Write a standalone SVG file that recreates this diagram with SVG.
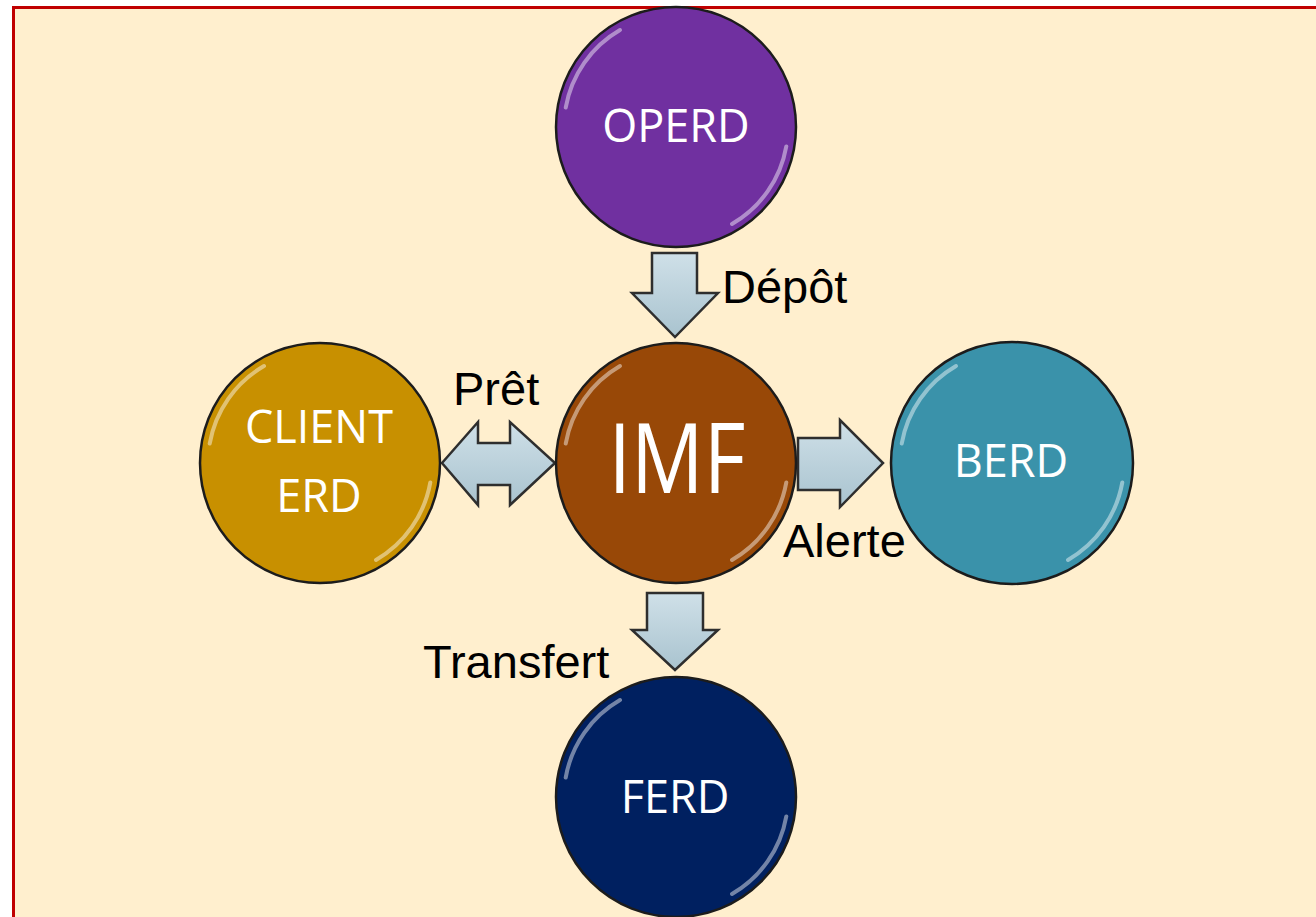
<svg xmlns="http://www.w3.org/2000/svg" width="1316" height="917" viewBox="0 0 1316 917">
<style>
.node circle.body{stroke:#1c1c1c;stroke-width:2.5}
.hl{fill:none;stroke:#ffffff;stroke-width:4;stroke-opacity:0.45;stroke-linecap:round}
.ntext{font-family:"Open Sans","Noto Sans",sans-serif;fill:#ffffff;text-anchor:middle;font-size:45px}
.lbl{font-family:"Liberation Sans",Arial,sans-serif;fill:#000000;font-size:47px}
.arrow{fill:url(#ag);stroke:#2e2e2e;stroke-width:2.5;stroke-linejoin:miter}
</style>
<defs>
<linearGradient id="ag" x1="0" y1="0" x2="0" y2="1">
<stop offset="0" stop-color="#cfe0e8"/>
<stop offset="1" stop-color="#a9c3cf"/>
</linearGradient>
<g id="gloss">
<path class="hl" d="M -110.3 -19.4 A 112 112 0 0 1 -56 -97"/>
<path class="hl" d="M 110.3 19.4 A 112 112 0 0 1 56 97"/>
</g>
</defs>
<rect x="0" y="0" width="1316" height="917" fill="#ffffff"/>
<rect x="13.5" y="7.5" width="1320" height="930" fill="#ffefce" stroke="#c00000" stroke-width="3"/>

<g id="connectors">
<path class="arrow" d="M652 253 H697 V293 H718 L675 337 L632 293 H652 Z"/>
<path class="arrow" d="M442 463 L478 422 V443 H510 V422 L555 463 L510 505 V485 H478 V505 Z"/>
<path class="arrow" d="M798 438 H840 V420 L883 463 L840 507 V490 H798 Z"/>
<path class="arrow" d="M647 593 H703 V630 H718 L675 670 L632 630 H647 Z"/>
<text class="lbl" x="722" y="303">Dépôt</text>
<text class="lbl" x="453" y="405">Prêt</text>
<text class="lbl" x="783" y="557">Alerte</text>
<text class="lbl" x="423" y="678">Transfert</text>
</g>

<g id="OPERD" class="node">
<circle class="body" cx="676" cy="127" r="120" fill="#7030a0"/>
<use href="#gloss" transform="translate(676 127)"/>
<text class="ntext" x="676" y="142">OPERD</text>
</g>
<g id="IMF" class="node">
<circle class="body" cx="676" cy="463" r="120" fill="#984807"/>
<use href="#gloss" transform="translate(676 463)"/>
<text class="ntext" x="677" y="493" style="font-size:97px" textLength="137" lengthAdjust="spacingAndGlyphs">IMF</text>
</g>
<g id="CLIENT_ERD" class="node">
<circle class="body" cx="320" cy="463" r="120" fill="#c89000"/>
<use href="#gloss" transform="translate(320 463)"/>
<text class="ntext" x="319" y="443">CLIENT</text>
<text class="ntext" x="319" y="512">ERD</text>
</g>
<g id="BERD" class="node">
<circle class="body" cx="1012" cy="463" r="121" fill="#3a92aa"/>
<use href="#gloss" transform="translate(1012 463)"/>
<text class="ntext" x="1011" y="477">BERD</text>
</g>
<g id="FERD" class="node">
<circle class="body" cx="676" cy="797" r="120" fill="#002060"/>
<use href="#gloss" transform="translate(676 797)"/>
<text class="ntext" x="675" y="813">FERD</text>
</g>
</svg>
